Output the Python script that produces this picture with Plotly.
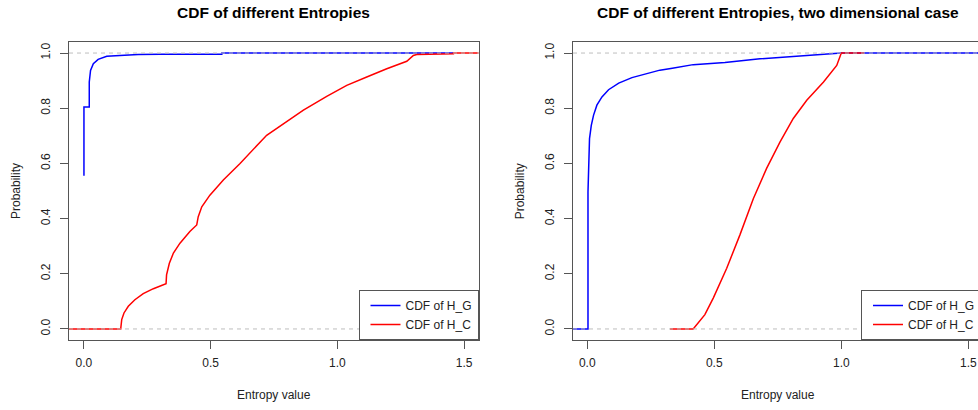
import plotly.graph_objects as go

# ---- data ----
hg1_x = [0.0, 0.0, 0.021, 0.021, 0.026, 0.037, 0.056, 0.090, 0.142, 0.214, 0.30, 0.40, 0.544, 0.544, 1.458]
hg1_y = [0.555, 0.804, 0.804, 0.895, 0.937, 0.961, 0.977, 0.988, 0.991, 0.995, 0.996, 0.996, 0.996, 1.0, 1.0]

hc1_x = [-0.06, 0.145, 0.149, 0.158, 0.175, 0.201, 0.234, 0.274, 0.324, 0.326, 0.337, 0.353, 0.379,
         0.418, 0.445, 0.451, 0.465, 0.497, 0.550, 0.616, 0.721, 0.787, 0.866, 0.958, 1.037, 1.116,
         1.195, 1.274, 1.300, 1.313, 1.458, 1.458, 1.56]
hc1_y = [0.0, 0.0, 0.034, 0.058, 0.082, 0.106, 0.128, 0.146, 0.164, 0.196, 0.238, 0.275, 0.311,
         0.353, 0.377, 0.407, 0.443, 0.485, 0.540, 0.600, 0.702, 0.744, 0.793, 0.843, 0.883, 0.913,
         0.943, 0.970, 0.991, 0.995, 0.997, 1.0, 1.0]

hg2_x = [-0.06, 0.003, 0.003, 0.005, 0.009, 0.016, 0.025, 0.038, 0.058, 0.084, 0.124, 0.176, 0.240,
         0.286, 0.335, 0.417, 0.542, 0.680, 1.0, 1.6]
hg2_y = [0.0, 0.0, 0.497, 0.618, 0.690, 0.738, 0.775, 0.811, 0.841, 0.867, 0.891, 0.911, 0.928,
         0.938, 0.945, 0.958, 0.966, 0.979, 1.0, 1.0]

hc2_x = [0.326, 0.417, 0.463, 0.496, 0.549, 0.601, 0.654, 0.706, 0.759, 0.811, 0.864, 0.930, 0.982,
         0.995, 1.0, 1.09]
hc2_y = [0.0, 0.0, 0.052, 0.112, 0.220, 0.341, 0.473, 0.582, 0.678, 0.763, 0.829, 0.895, 0.955,
         0.985, 1.0, 1.0]

x_ticks = [0.0, 0.5, 1.0, 1.5]
x_ticktext = ["0.0", "0.5", "1.0", "1.5"]
y_ticks = [0.0, 0.2, 0.4, 0.6, 0.8, 1.0]
y_ticktext = ["0.0", "0.2", "0.4", "0.6", "0.8", "1.0"]
ref_lines = [0.0, 1.0]

titles = ["CDF of different Entropies", "CDF of different Entropies, two dimensional case"]
xlabel = "Entropy value"
ylabel = "Probability"
names = ["CDF of H_G", "CDF of H_C"]

# ---- layout geometry ----
W, H = 978, 410
FONT = "Liberation Sans, Arial, sans-serif"
BLUE, RED = "#0000FF", "#FF0000"
BOX = "#555555"
TXT = "#222222"

def px_x(p):
    return p / W

def px_y(p):
    return 1 - p / H

dom_y = [px_y(340), px_y(42)]
dom_x1 = [px_x(69), px_x(478.5)]
dom_x2 = [px_x(573), 1.0]

fig = go.Figure()
lw = 1.5
fig.add_trace(go.Scatter(x=hg1_x, y=hg1_y, mode="lines", name=names[0], line=dict(color=BLUE, width=lw),
                         xaxis="x", yaxis="y", legend="legend"))
fig.add_trace(go.Scatter(x=hc1_x, y=hc1_y, mode="lines", name=names[1], line=dict(color=RED, width=lw),
                         xaxis="x", yaxis="y", legend="legend"))
fig.add_trace(go.Scatter(x=hg2_x, y=hg2_y, mode="lines", name=names[0], line=dict(color=BLUE, width=lw),
                         xaxis="x2", yaxis="y2", legend="legend2"))
fig.add_trace(go.Scatter(x=hc2_x, y=hc2_y, mode="lines", name=names[1], line=dict(color=RED, width=lw),
                         xaxis="x2", yaxis="y2", legend="legend2"))

axis_common = dict(showgrid=False, zeroline=False, showline=True, linecolor=BOX, linewidth=1,
                   ticks="outside", ticklen=8, tickcolor=BOX, tickwidth=1,
                   tickfont=dict(family=FONT, size=12, color=TXT))

fig.update_layout(
    width=W, height=H,
    margin=dict(l=0, r=0, t=0, b=0, autoexpand=False),
    paper_bgcolor="white", plot_bgcolor="white",
    font=dict(family=FONT, size=12, color=TXT),
    xaxis=dict(domain=dom_x1, range=[-0.059, 1.557], tickvals=x_ticks, ticktext=x_ticktext,
               mirror=True, anchor="y", ticklabelstandoff=4, **axis_common),
    yaxis=dict(domain=dom_y, range=[-0.04, 1.04], tickvals=y_ticks, ticktext=y_ticktext,
               tickangle=-90, mirror=True, anchor="x", ticklabelstandoff=5, **axis_common),
    xaxis2=dict(domain=dom_x2, range=[-0.056, 1.538], tickvals=x_ticks, ticktext=x_ticktext,
                mirror=True, anchor="y2", ticklabelstandoff=4, **axis_common),
    yaxis2=dict(domain=dom_y, range=[-0.04, 1.04], tickvals=y_ticks, ticktext=y_ticktext,
                tickangle=-90, mirror=False, anchor="x2", ticklabelstandoff=5, **axis_common),
    legend=dict(x=px_x(478.5), xanchor="right", y=px_y(340), yanchor="bottom",
                bgcolor="white", bordercolor=BOX, borderwidth=1, indentation=6,
                font=dict(family=FONT, size=12, color=TXT)),
    legend2=dict(x=px_x(861), xanchor="left", y=px_y(340), yanchor="bottom",
                 bgcolor="white", bordercolor=BOX, borderwidth=1, indentation=6,
                 font=dict(family=FONT, size=12, color=TXT)),
)

# dashed reference lines
for xr, yr in (("x", "y"), ("x2", "y2")):
    for v in ref_lines:
        fig.add_shape(type="line", xref=xr + " domain", yref=yr, x0=0, x1=1, y0=v, y1=v,
                      line=dict(color="#BEBEBE", width=1, dash="4px,4px"), layer="above")

# titles and axis labels
centers = [(69 + 478.5) / 2, (573 + 983) / 2]
for c, t in zip(centers, titles):
    fig.add_annotation(text="<b>" + t + "</b>", x=px_x(c), y=px_y(12), xref="paper", yref="paper",
                       xanchor="center", yanchor="middle", showarrow=False,
                       font=dict(family=FONT, size=15.5, color="#000000"))
for c in centers:
    fig.add_annotation(text=xlabel, x=px_x(c), y=px_y(395), xref="paper", yref="paper",
                       xanchor="center", yanchor="middle", showarrow=False,
                       font=dict(family=FONT, size=12, color=TXT))
for xc in (16, 520.3):
    fig.add_annotation(text=ylabel, x=px_x(xc), y=px_y(191), xref="paper", yref="paper",
                       xanchor="center", yanchor="middle", showarrow=False, textangle=-90,
                       font=dict(family=FONT, size=12, color=TXT))

# remove the default 8px page margin so the figure sits at the window's top-left corner
fig.write_html("out.html",
               config={"displayModeBar": False},
               post_script="document.body.style.margin='0';document.body.style.overflow='hidden';")
